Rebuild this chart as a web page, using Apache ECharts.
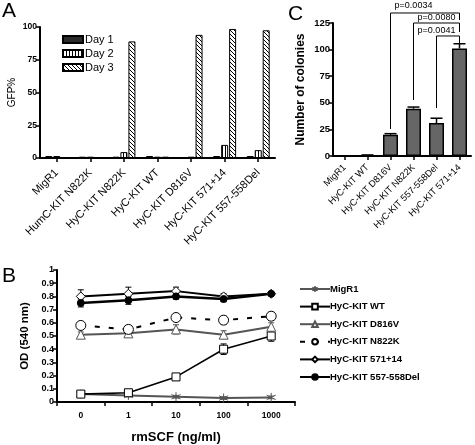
<!DOCTYPE html>
<html>
<head>
<meta charset="utf-8">
<script src="https://cdn.jsdelivr.net/npm/echarts@6/dist/echarts.min.js"></script>
<style>html,body{margin:0;padding:0;background:#fff;}#c{width:475px;height:445px;}</style>
</head>
<body>
<div id="c"></div>
<script>
// ---------- Panel A data ----------
const aCategories = ['MigR1', 'HumC-KIT N822K', 'HyC-KIT N822K', 'HyC-KIT WT', 'HyC-KIT D816V', 'HyC-KIT 571+14', 'HyC-KIT 557-558Del'];
const aDay1 = [1.5, 1.0, 1.0, 1.5, 0.5, 1.5, 1.5];
const aDay2 = [1.5, 1.0, 4.5, 1.0, 1.0, 10, 6];
const aDay3 = [0.5, 0.5, 89, 1.0, 94, 98.5, 97.5];

// ---------- Panel C data ----------
const cCategories = ['MigR1', 'HyC-KIT WT', 'HyC-KIT D816V', 'HyC-KIT N822K', 'HyC-KIT 557-558Del', 'HyC-KIT 571+14'];
const cColonies = [0, 0.7, 20, 44.5, 31, 101];
const cErrors = [0, 0.3, 1, 1.5, 4.5, 4.5];
const cPLabels = ['p=0.0034', 'p=0.0080', 'p=0.0041'];
// [left category, right category, left bottom, top, right bottom, label x (category), label y]
const cBrackets = [
  [1.95, 5, 25.4, 134.4, 127.8, 3.13, 141],
  [2.9, 5, 52.6, 125, 116.5, 3.7, 129.7],
  [3.95, 5, 45, 112.8, 106, 3.96, 117.5]
];

// ---------- Panel B data ----------
const bDoses = ['0', '1', '10', '100', '1000'];
const bNames = ['MigR1', 'HyC-KIT WT', 'HyC-KIT D816V', 'HyC-KIT N822K', 'HyC-KIT 571+14', 'HyC-KIT 557-558Del'];
const bMigR1 = [0.06, 0.05, 0.04, 0.03, 0.035];
const bWT = [0.06, 0.07, 0.19, 0.40, 0.50];
const bD816V = [0.51, 0.52, 0.55, 0.51, 0.57];
const bN822K = [0.58, 0.55, 0.64, 0.62, 0.65];
const b571 = [0.80, 0.82, 0.84, 0.80, 0.82];
const b557 = [0.75, 0.77, 0.80, 0.78, 0.82];
const bMigR1Err = [0.01, 0.01, 0.01, 0.01, 0.01];
const bWTErr = [0.01, 0.015, 0.02, 0.04, 0.04];
const bD816VErr = [0.02, 0.02, 0.035, 0.03, 0.03];
const bN822KErr = [0.01, 0.03, 0.01, 0.03, 0.03];
const b571Err = [0.05, 0.05, 0.03, 0.02, 0.01];
const b557Err = [0.03, 0.03, 0.02, 0.02, 0.01];

const FONT = '"Liberation Sans", Arial, Helvetica, sans-serif';

function makePattern(kind) {
  const c = document.createElement('canvas');
  const ctx = c.getContext('2d');
  if (kind === 'vert') {
    c.width = 3; c.height = 3;
    ctx.fillStyle = '#fff'; ctx.fillRect(0, 0, 3, 3);
    ctx.fillStyle = '#000'; ctx.fillRect(0, 0, 1, 3);
  } else {
    c.width = 4; c.height = 4;
    ctx.fillStyle = '#fff'; ctx.fillRect(0, 0, 4, 4);
    ctx.fillStyle = '#000';
    for (let i = 0; i < 4; i++) ctx.fillRect(i, i, 1, 1);
  }
  return { image: c, repeat: 'repeat' };
}
const vertPattern = makePattern('vert');
const diagPattern = makePattern('diag');

const bSeriesData = [bMigR1, bWT, bD816V, bN822K, b571, b557];
const bErrData = [bMigR1Err, bWTErr, bD816VErr, bN822KErr, b571Err, b557Err];
const bColors = ['#555', '#000', '#555', '#000', '#000', '#000'];
const asterisk = 'path://M0,-10L0,10M-8.66,-5L8.66,5M-8.66,5L8.66,-5';
const bSymbols = [asterisk, 'rect', 'triangle', 'circle', 'diamond', 'circle'];
const bSymbolSizes = [9, 8, 9, 10, 9, 7];
const bFills = ['#555', '#fff', '#fff', '#fff', '#fff', '#000'];
const bLineStyles = [
  { color: '#555', width: 2 },
  { color: '#000', width: 1.6 },
  { color: '#555', width: 2 },
  { color: '#000', width: 2, type: [5, 9] },
  { color: '#000', width: 2 },
  { color: '#000', width: 2.5 }
];

const bErrRows = [];
bErrData.forEach((arr, s) => arr.forEach((e, i) => bErrRows.push([i, bSeriesData[s][i], e, s])));

const axisLineStyle = { lineStyle: { color: '#000', width: 2 } };
const tickStyle = { show: true, length: 4, lineStyle: { color: '#000', width: 1.5 } };

const chart = echarts.init(document.getElementById('c'));
const option = {
  animation: false,
  textStyle: { fontFamily: FONT },
  grid: [
    { left: 40, top: 27, width: 235, height: 131 },
    { left: 333, top: 23, width: 138, height: 133 },
    { left: 57, top: 270, width: 238, height: 136 }
  ],
  legend: [
    {
      data: ['Day 1', 'Day 2', 'Day 3'],
      orient: 'vertical', left: 57, top: 29,
      itemWidth: 20, itemHeight: 7, itemGap: 3, icon: 'rect',
      textStyle: { fontFamily: FONT, fontSize: 11, color: '#000', padding: [0, 0, 0, -3] },
      selectedMode: false
    },
    {
      data: bNames,
      orient: 'vertical', left: 294, top: 279,
      itemWidth: 30, itemHeight: 7, itemGap: 7.6,
      textStyle: { fontFamily: FONT, fontSize: 9.5, fontWeight: 'bold', color: '#000', padding: [0, 0, 0, -5] },
      selectedMode: false
    }
  ],
  xAxis: [
    {
      type: 'category', gridIndex: 0, data: aCategories,
      axisLine: axisLineStyle, axisTick: Object.assign({ alignWithLabel: true }, tickStyle),
      axisLabel: { rotate: 45, fontSize: 11, color: '#000', fontFamily: FONT, margin: 13, interval: 0 }
    },
    {
      type: 'category', gridIndex: 1, data: cCategories,
      axisLine: axisLineStyle, axisTick: Object.assign({ alignWithLabel: true }, tickStyle),
      axisLabel: { rotate: 45, fontSize: 9.3, color: '#000', fontFamily: FONT, margin: 10, interval: 0 }
    },
    {
      type: 'category', gridIndex: 2, data: bDoses,
      axisLine: axisLineStyle, axisTick: { show: true, length: 4, lineStyle: { color: '#000', width: 1.5 } },
      axisLabel: { fontSize: 8.5, fontWeight: 'bold', color: '#000', fontFamily: FONT, margin: 9 },
      name: 'rmSCF (ng/ml)', nameLocation: 'middle', nameGap: 29,
      nameTextStyle: { fontSize: 13, fontWeight: 'bold', color: '#000', fontFamily: FONT }
    }
  ],
  yAxis: [
    {
      type: 'value', gridIndex: 0, min: 0, max: 100, interval: 25,
      axisLine: Object.assign({ show: true }, axisLineStyle), axisTick: tickStyle, splitLine: { show: false },
      axisLabel: { fontSize: 8.5, fontWeight: 'bold', color: '#000', fontFamily: FONT, margin: 3 },
      name: 'GFP%', nameLocation: 'middle', nameGap: 23,
      nameTextStyle: { fontSize: 10, color: '#000', fontFamily: FONT }
    },
    {
      type: 'value', gridIndex: 1, min: 0, max: 125, interval: 25,
      axisLine: Object.assign({ show: true }, axisLineStyle), axisTick: tickStyle, splitLine: { show: false },
      axisLabel: { fontSize: 9.5, fontWeight: 'bold', color: '#000', fontFamily: FONT, margin: 3 },
      name: 'Number of colonies', nameLocation: 'middle', nameGap: 26,
      nameTextStyle: { fontSize: 12, fontWeight: 'bold', color: '#000', fontFamily: FONT }
    },
    {
      type: 'value', gridIndex: 2, min: 0, max: 1, interval: 0.1,
      axisLine: Object.assign({ show: true }, axisLineStyle), axisTick: tickStyle, splitLine: { show: false },
      axisLabel: { fontSize: 9, fontWeight: 'bold', color: '#000', fontFamily: FONT, margin: 3,
        formatter: v => String(Math.round(v * 10) / 10) },
      name: 'OD (540 nm)', nameLocation: 'middle', nameGap: 17,
      nameTextStyle: { fontSize: 11.5, fontWeight: 'bold', color: '#000', fontFamily: FONT }
    }
  ],
  graphic: [
    { type: 'text', left: 2, top: 1, style: { text: 'A', font: '21px ' + FONT, fill: '#000' } },
    { type: 'text', left: 288, top: 4, style: { text: 'C', font: '21px ' + FONT, fill: '#000' } },
    { type: 'text', left: 2, top: 266, style: { text: 'B', font: '21px ' + FONT, fill: '#000' } }
  ],
  series: [
    { type: 'bar', name: 'Day 1', xAxisIndex: 0, yAxisIndex: 0, data: aDay1, barWidth: 7, barGap: '14%',
      itemStyle: { color: '#2a2a2a', borderColor: '#000', borderWidth: 1 } },
    { type: 'bar', name: 'Day 2', xAxisIndex: 0, yAxisIndex: 0, data: aDay2, barWidth: 7, barGap: '14%',
      itemStyle: { color: vertPattern, borderColor: '#000', borderWidth: 1 } },
    { type: 'bar', name: 'Day 3', xAxisIndex: 0, yAxisIndex: 0, data: aDay3, barWidth: 7, barGap: '14%',
      itemStyle: { color: diagPattern, borderColor: '#000', borderWidth: 1 } },
    { type: 'bar', name: 'colonies', xAxisIndex: 1, yAxisIndex: 1, data: cColonies, barWidth: 15,
      itemStyle: { color: '#666', borderColor: '#000', borderWidth: 1.5 } },
    {
      type: 'custom', name: 'cErr', xAxisIndex: 1, yAxisIndex: 1,
      data: cColonies.map((v, i) => [i, v, cErrors[i]]),
      renderItem: function (params, api) {
        const x = api.value(0), y = api.value(1), e = api.value(2);
        if (!(e > 0)) return null;
        const p0 = api.coord([x, y]);
        const p1 = api.coord([x, y + e]);
        return { type: 'group', children: [
          { type: 'line', shape: { x1: p0[0], y1: p0[1], x2: p1[0], y2: p1[1] }, style: { stroke: '#000', lineWidth: 1.5 } },
          { type: 'line', shape: { x1: p1[0] - 6, y1: p1[1], x2: p1[0] + 6, y2: p1[1] }, style: { stroke: '#000', lineWidth: 1.5 } }
        ] };
      },
      z: 3
    },
    {
      type: 'custom', name: 'cBrackets', xAxisIndex: 1, yAxisIndex: 1, clip: false,
      data: cBrackets,
      renderItem: function (params, api) {
        const l = api.value(0), r = api.value(1);
        const lb = api.coord([l, api.value(2)]);
        const lt = api.coord([l, api.value(3)]);
        const rt = api.coord([r, api.value(3)]);
        const rb = api.coord([r, api.value(4)]);
        const tp = api.coord([api.value(5), api.value(6)]);
        return { type: 'group', children: [
          { type: 'polyline', shape: { points: [lb, lt, rt, rb] }, style: { stroke: '#000', lineWidth: 1, fill: null } },
          { type: 'text', x: tp[0], y: tp[1], style: { text: cPLabels[params.dataIndex], font: '9px ' + FONT, fill: '#000', align: 'center', verticalAlign: 'middle' } }
        ] };
      }
    },
    {
      type: 'custom', name: 'bErr', xAxisIndex: 2, yAxisIndex: 2,
      data: bErrRows,
      renderItem: function (params, api) {
        const x = api.value(0), y = api.value(1), e = api.value(2), s = api.value(3);
        const pt = api.coord([x, y + e]);
        const pb = api.coord([x, y - e]);
        const col = bColors[s];
        return { type: 'group', children: [
          { type: 'line', shape: { x1: pt[0], y1: pt[1], x2: pb[0], y2: pb[1] }, style: { stroke: col, lineWidth: 1 } },
          { type: 'line', shape: { x1: pt[0] - 3, y1: pt[1], x2: pt[0] + 3, y2: pt[1] }, style: { stroke: col, lineWidth: 1 } },
          { type: 'line', shape: { x1: pb[0] - 3, y1: pb[1], x2: pb[0] + 3, y2: pb[1] }, style: { stroke: col, lineWidth: 1 } }
        ] };
      },
      z: 1
    }
  ].concat(bNames.map((n, s) => ({
    type: 'line', name: n, xAxisIndex: 2, yAxisIndex: 2, data: bSeriesData[s],
    symbol: bSymbols[s], symbolSize: bSymbolSizes[s], showAllSymbol: true,
    color: bColors[s],
    lineStyle: bLineStyles[s],
    itemStyle: { color: bFills[s], borderColor: bColors[s], borderWidth: 1 },
    z: 3
  })))
};
chart.setOption(option);
</script>
</body>
</html>
